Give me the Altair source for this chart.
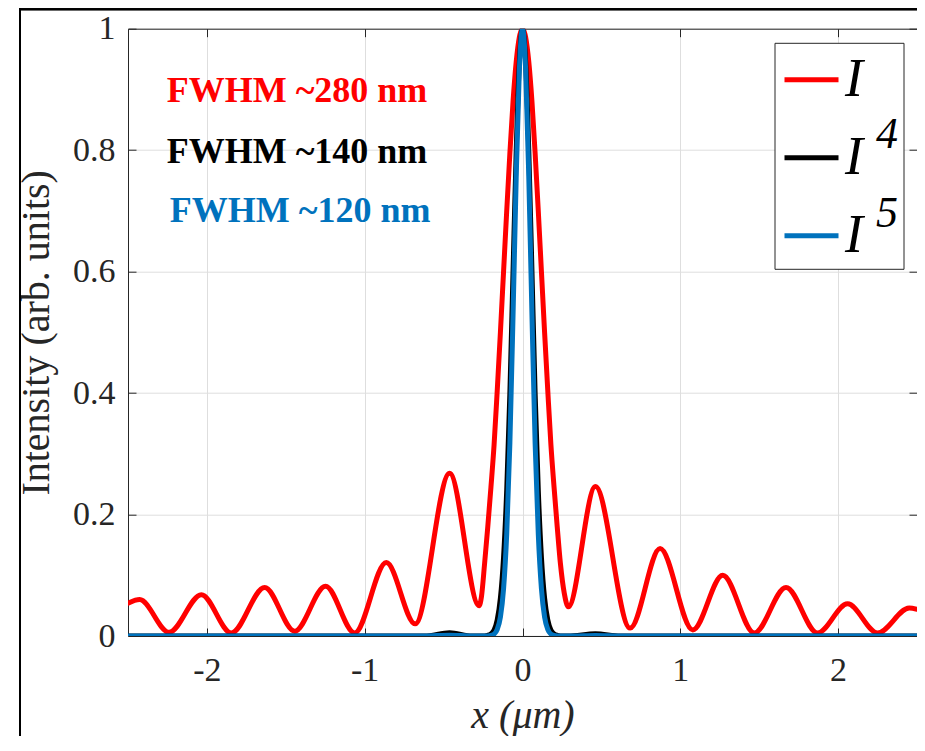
import altair as alt
import pandas as pd

# ---- data ----
series_names = ["I", "I4", "I5"]
series_colors = ["#FF0000", "#000000", "#0072BD"]
legend_powers = ["4", "5"]

red_x = [-2.5, -2.426, -2.24, -2.035, -1.845, -1.634, -1.444, -1.248, -1.064,
         -0.863, -0.68, -0.462, -0.275, -0.26, -0.24, -0.22, -0.20, -0.18, -0.16,
         -0.14, -0.12, -0.10, -0.08, -0.06, -0.04, -0.02, 0.0,
         0.02, 0.04, 0.06, 0.08, 0.10, 0.12, 0.14, 0.16, 0.18, 0.20, 0.22, 0.24,
         0.265, 0.29, 0.462, 0.682, 0.872, 1.079, 1.269, 1.469, 1.67, 1.87,
         2.06, 2.25, 2.451, 2.5]
red_y = [0.054, 0.060, 0.006, 0.068, 0.005, 0.080, 0.008, 0.082, 0.005,
         0.121, 0.020, 0.268, 0.050, 0.065, 0.12, 0.18, 0.245, 0.315, 0.405,
         0.50, 0.60, 0.70, 0.795, 0.88, 0.945, 0.986, 1.0,
         0.986, 0.945, 0.88, 0.795, 0.70, 0.60, 0.50, 0.405, 0.315, 0.245, 0.18, 0.12,
         0.07, 0.048, 0.246, 0.013, 0.144, 0.010, 0.100, 0.005, 0.080, 0.005,
         0.053, 0.005, 0.046, 0.044]

black_x = [-2.5, -0.62, -0.462, -0.32, -0.28, -0.24, -0.22, -0.20, -0.18, -0.16,
           -0.14, -0.12, -0.10, -0.08, -0.06, -0.04, -0.02, 0.0,
           0.02, 0.04, 0.06, 0.08, 0.10, 0.12, 0.14, 0.16, 0.18, 0.20, 0.22,
           0.24, 0.29, 0.462, 0.62, 2.5]
black_y = [0.0, 0.0, 0.0053, 0.0, 0.0, 0.0002, 0.0011, 0.0036, 0.0098, 0.0269,
           0.0625, 0.1296, 0.2401, 0.3994, 0.5997, 0.7975, 0.945, 1.0,
           0.945, 0.7975, 0.5997, 0.3994, 0.2401, 0.1296, 0.0625, 0.0269, 0.0098,
           0.0036, 0.0011, 0.0002, 0.0, 0.0037, 0.0, 0.0]

blue_x = [-2.5, -0.62, -0.462, -0.32, -0.26, -0.22, -0.20, -0.18, -0.16,
          -0.14, -0.12, -0.10, -0.08, -0.06, -0.04, -0.02, 0.0,
          0.02, 0.04, 0.06, 0.08, 0.10, 0.12, 0.14, 0.16, 0.18, 0.20, 0.22,
          0.26, 0.32, 0.462, 0.62, 2.5]
blue_y = [0.0, 0.0, 0.0014, 0.0, 0.0, 0.0002, 0.0009, 0.0031, 0.0109,
          0.0313, 0.0778, 0.168, 0.3175, 0.5277, 0.7536, 0.932, 1.0,
          0.932, 0.7536, 0.5277, 0.3175, 0.168, 0.0778, 0.0313, 0.0109, 0.0031,
          0.0009, 0.0002, 0.0, 0.0, 0.0009, 0.0, 0.0]

x_ticks = [-2, -1, 0, 1, 2]
y_ticks = [0, 0.2, 0.4, 0.6, 0.8, 1]

note_text = ["FWHM ~280 nm", "FWHM ~140 nm", "FWHM ~120 nm"]
note_x = [-2.255, -2.255, -2.235]
note_y = [0.879, 0.779, 0.682]

# ---- layout ----
W, H = 789, 607.3
FONT = "Liberation Serif, Times New Roman, serif"
AX = "#262626"

df_red = pd.DataFrame({"x": red_x, "y": red_y, "series": series_names[0]})
df_black = pd.DataFrame({"x": black_x, "y": black_y, "series": series_names[1]})
df_blue = pd.DataFrame({"x": blue_x, "y": blue_y, "series": series_names[2]})
df_note = pd.DataFrame({"x": note_x, "y": note_y, "t": note_text, "c": series_colors})
df_pow = pd.DataFrame({"p": legend_powers})

xs = alt.Scale(domain=[-2.5, 2.5], nice=False, zero=False)
ys = alt.Scale(domain=[0, 1], nice=False, zero=False)

legend = alt.Legend(
    title="", orient="none", legendX=647, legendY=14.6,
    padding=7, rowPadding=21, symbolType="stroke", symbolSize=2916,
    symbolStrokeWidth=5, labelFont=FONT, labelFontSize=54,
    labelFontStyle="italic", labelColor="#000000", labelOffset=4,
    labelExpr="'I'", labelLimit=300, symbolOpacity=1,
)
color = alt.Color("series:N", scale=alt.Scale(domain=series_names, range=series_colors),
                  legend=legend)

# main axes: labels, titles, grid
ax_x_main = alt.Axis(orient="bottom", values=x_ticks, labelExpr="'' + datum.value",
                     labelFont=FONT, labelFontSize=34, labelColor=AX, labelPadding=17,
                     ticks=False, tickSize=0, domainColor=AX, domainWidth=1,
                     grid=True, gridColor="#DEDEDE", gridWidth=1,
                     title="x (\u03bcm)", titleFont=FONT, titleFontSize=40,
                     titleFontStyle="italic", titleFontWeight="normal", titleColor=AX,
                     titleBaseline="alphabetic", titleX=W / 2, titleY=91)
ax_y_main = alt.Axis(orient="left", values=y_ticks, format="~g",
                     labelFont=FONT, labelFontSize=34, labelColor=AX, labelPadding=13,
                     ticks=False, tickSize=0, domainColor=AX, domainWidth=1,
                     grid=True, gridColor="#DEDEDE", gridWidth=1,
                     title="Intensity (arb. units)", titleFont=FONT, titleFontSize=40,
                     titleFontWeight="normal", titleColor=AX,
                     titleBaseline="alphabetic", titleAngle=270, titleX=-80, titleY=H / 2)
# inward ticks at bottom / left
ax_x_in_b = alt.Axis(orient="top", offset=-H, values=x_ticks, labels=False, domain=False,
                     grid=False, ticks=True, tickSize=8, tickColor=AX, title="")
ax_y_in_l = alt.Axis(orient="right", offset=-W, values=y_ticks, labels=False, domain=False,
                     grid=False, ticks=True, tickSize=8, tickColor=AX, title="")
# box top / right with inward ticks
ax_x_top = alt.Axis(orient="bottom", offset=-H, values=x_ticks, labels=False, domain=True,
                    domainColor=AX, domainWidth=1, grid=False, ticks=True, tickSize=8,
                    tickColor=AX, title="")
ax_y_right = alt.Axis(orient="left", offset=-W, values=y_ticks, labels=False, domain=True,
                      domainColor=AX, domainWidth=1, grid=False, ticks=True, tickSize=8,
                      tickColor=AX, title="")


def line_layer(df, axx, axy):
    return alt.Chart(df).mark_line(strokeWidth=5, interpolate="monotone", clip=True,
                                   strokeCap="round").encode(
        x=alt.X("x:Q", scale=xs, axis=axx),
        y=alt.Y("y:Q", scale=ys, axis=axy),
        color=color,
    )


red = line_layer(df_red, ax_x_main, ax_y_main)
black = line_layer(df_black, ax_x_in_b, ax_y_in_l)
blue = line_layer(df_blue, ax_x_top, ax_y_right)

notes = alt.Chart(df_note).mark_text(align="left", baseline="alphabetic", font=FONT,
                                     fontSize=36, fontWeight="bold").encode(
    x=alt.X("x:Q", scale=xs, axis=None),
    y=alt.Y("y:Q", scale=ys, axis=None),
    text="t:N",
    color=alt.Color("c:N", scale=None),
)

# legend frame (drawn beneath the legend entries)
legend_box = alt.Chart(df_pow).transform_filter("datum.p == '4'").mark_rect(
    fill="white", stroke=AX, strokeWidth=1).encode(
    x=alt.value(647), x2=alt.value(776), y=alt.value(14.6), y2=alt.value(240.6))

# superscripts of the legend labels (I^4, I^5)
sup4 = alt.Chart(df_pow).transform_filter("datum.p == '4'").mark_text(
    align="left", baseline="alphabetic", font=FONT, fontSize=44, fontStyle="italic",
    color="#000000").encode(text="p:N", x=alt.value(748), y=alt.value(119.5))
sup5 = alt.Chart(df_pow).transform_filter("datum.p == '5'").mark_text(
    align="left", baseline="alphabetic", font=FONT, fontSize=44, fontStyle="italic",
    color="#000000").encode(text="p:N", x=alt.value(748), y=alt.value(198.3))

frame_left = alt.Chart(df_note).mark_rule(color="#000000", strokeWidth=2).encode(
    x=alt.value(-108), y=alt.value(-20.7), y2=alt.value(H + 100))
frame_top = alt.Chart(df_note).mark_rule(color="#000000", strokeWidth=2).encode(
    x=alt.value(-108), x2=alt.value(W + 10), y=alt.value(-19.5))

chart = alt.layer(red, black, blue, notes, legend_box, sup4, sup5,
                  frame_left, frame_top).resolve_axis(
    x="independent", y="independent"
).properties(
    width=W, height=H,
    autosize=alt.AutoSizeParams(type="none"),
    padding={"left": 120, "top": 20.7, "right": 0, "bottom": 100},
    background="white",
).configure_view(strokeWidth=0)

chart.save("out.html", embed_options={"renderer": "svg", "actions": False})
